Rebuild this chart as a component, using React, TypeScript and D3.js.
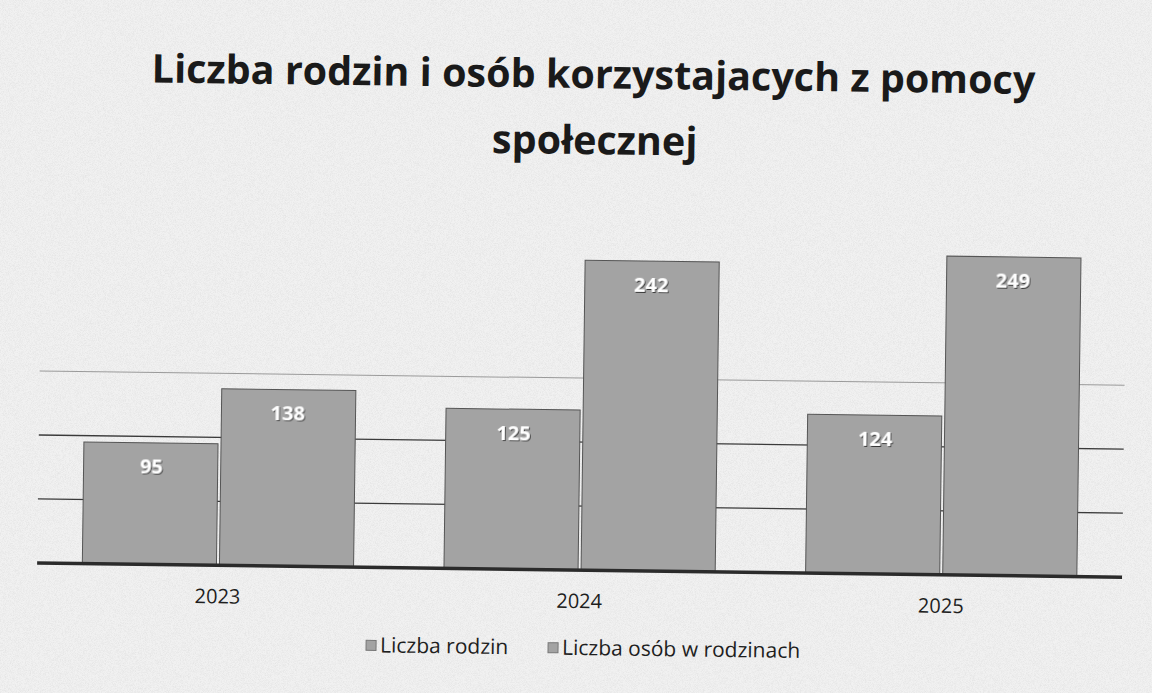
import React from "react";
import * as d3 from "d3";

const years = ["2023", "2024", "2025"];
const seriesNames = ["Liczba rodzin", "Liczba osób w rodzinach"];
const families = [95, 125, 124];
const people = [138, 242, 249];
const gridTicks = [50, 100, 150];

const W = 1152;
const H = 693;
const margin = { top: 186, right: 27, bottom: 123, left: 40 };

const App = () => {
  const baseY = H - margin.bottom;
  const x = d3
    .scaleBand<string>()
    .domain(years)
    .range([margin.left, W - margin.right])
    .paddingInner(0.25)
    .paddingOuter(0.125);
  const xInner = d3
    .scaleBand<string>()
    .domain(seriesNames)
    .range([0, x.bandwidth()])
    .padding(0);
  const y = d3.scaleLinear().domain([0, 300]).range([baseY, margin.top]);

  const values = [families, people];
  const font = "'Open Sans', 'Liberation Sans', sans-serif";

  return (
    <svg
      width={W}
      height={H}
      style={{ position: "absolute", left: 0, top: 0 }}
      fontFamily={font}
    >
      <defs>
        <filter id="grain" x="0" y="0" width="100%" height="100%">
          <feTurbulence type="fractalNoise" baseFrequency="1.4" numOctaves="1" seed="3" />
          <feColorMatrix
            type="matrix"
            values="0 0 0 0 0.3  0 0 0 0 0.3  0 0 0 0 0.3  0 0 0 0.9 -0.35"
          />
        </filter>
        <filter id="shadow" x="-20%" y="-20%" width="140%" height="140%">
          <feDropShadow dx="1" dy="1" stdDeviation="0.6" floodColor="#222" floodOpacity="0.9" />
        </filter>
      </defs>
      <rect width={W} height={H} fill="#f1f1f1" />
      <rect width={W} height={H} filter="url(#grain)" opacity={0.35} />

      <g transform={`rotate(0.75 ${W / 2} ${H / 2})`}>
        <text
          x={590}
          y={88}
          textAnchor="middle"
          fontSize={39.5}
          fontWeight="bold"
          fill="#1a1a1a"
        >
          Liczba rodzin i osób korzystajacych z pomocy
        </text>
        <text x={592} y={154} textAnchor="middle" fontSize={39.5} fontWeight="bold" fill="#1a1a1a">
          społecznej
        </text>

        {gridTicks.map((t, i) => (
          <line
            key={t}
            x1={margin.left}
            x2={W - margin.right}
            y1={y(t)}
            y2={y(t)}
            stroke={i === gridTicks.length - 1 ? "#9a9a9a" : "#3a3a3a"}
            strokeWidth={i === gridTicks.length - 1 ? 1 : 1.3}
          />
        ))}

        {years.map((yr, i) => (
          <g key={yr} transform={`translate(${x(yr)},0)`}>
            {seriesNames.map((s, j) => {
              const v = values[j][i];
              const bx = xInner(s)!;
              return (
                <g key={s}>
                  <rect
                    x={bx + (j === 1 ? 1.5 : 0)}
                    y={y(v)}
                    width={xInner.bandwidth() - 1.5}
                    height={baseY - y(v)}
                    fill="#a3a3a3"
                    stroke="#555"
                    strokeWidth={1}
                  />
                  <text
                    x={bx + xInner.bandwidth() / 2}
                    y={y(v) + 31}
                    textAnchor="middle"
                    fontSize={20}
                    fontWeight="bold"
                    fill="#ffffff"
                    filter="url(#shadow)"
                  >
                    {v}
                  </text>
                </g>
              );
            })}
            <text
              x={x.bandwidth() / 2}
              y={baseY + 38}
              textAnchor="middle"
              fontSize={20}
              fill="#1e1e1e"
            >
              {yr}
            </text>
          </g>
        ))}

        <line
          x1={margin.left}
          x2={W - margin.right}
          y1={baseY}
          y2={baseY}
          stroke="#2b2b2b"
          strokeWidth={3.5}
        />

        <g transform="translate(370,655)" fontSize={21} fill="#1e1e1e">
          {seriesNames.map((s, j) => {
            const off = j === 0 ? 0 : 182;
            return (
              <g key={s} transform={`translate(${off},0)`}>
                <rect x={0} y={-12} width={10} height={10} fill="#a3a3a3" stroke="#777" />
                <text x={14} y={0}>
                  {s}
                </text>
              </g>
            );
          })}
        </g>
      </g>
    </svg>
  );
};

export default App;
